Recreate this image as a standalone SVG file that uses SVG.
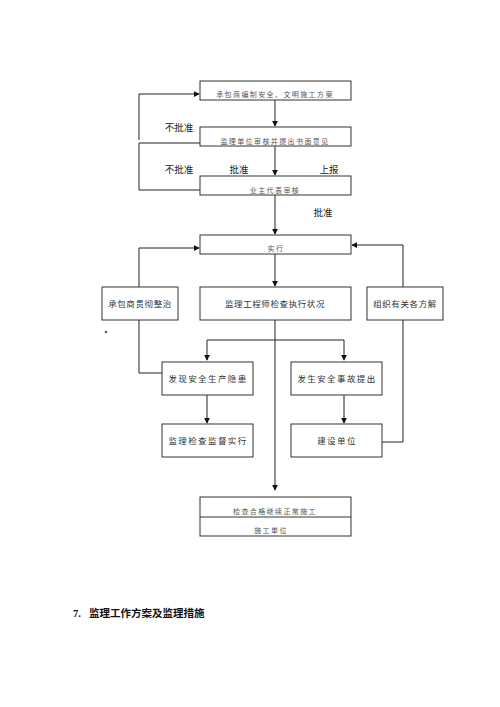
<svg xmlns="http://www.w3.org/2000/svg" width="500" height="707" viewBox="0 0 500 707">
<defs>
<style>
.box{fill:#fff;stroke:#333;stroke-width:1}
.ln{fill:none;stroke:#222;stroke-width:1}
.t{font-family:"Liberation Serif","Noto Sans CJK SC",serif;fill:#333;text-anchor:middle}
.s{font-size:7px;letter-spacing:1.4px;fill:#555}
.m{font-size:8.5px;letter-spacing:0.6px}
.w{font-size:8.5px;letter-spacing:1.4px}
.lb{font-family:"Liberation Serif","Noto Sans CJK SC",serif;font-size:9.5px;fill:#222;text-anchor:middle}
.ti{font-family:"Liberation Serif","Noto Sans CJK SC",serif;font-size:10.5px;font-weight:bold;fill:#111}
</style>
<marker id="ar" viewBox="0 0 8 8" refX="7" refY="4" markerWidth="6" markerHeight="6" orient="auto" markerUnits="userSpaceOnUse">
<path d="M0,0 L8,4 L0,8 z" fill="#111"/>
</marker>
</defs>
<rect width="500" height="707" fill="#fff"/>
<g id="connectors">
<path class="ln" d="M275,100 V126" marker-end="url(#ar)"/>
<path class="ln" d="M275,146 V175" marker-end="url(#ar)"/>
<path class="ln" d="M275,195 V234" marker-end="url(#ar)"/>
<path class="ln" d="M275,254 V286" marker-end="url(#ar)"/>
<path class="ln" d="M139,140 V94 H199" marker-end="url(#ar)"/>
<path class="ln" d="M200,143 H139 V190 H200"/>
<path class="ln" d="M139,287 V248 H199" marker-end="url(#ar)"/>
<path class="ln" d="M403,287 V245 H352" marker-end="url(#ar)"/>
<path class="ln" d="M139,320 V373 H162"/>
<path class="ln" d="M403,320 V442 H382"/>
<path class="ln" d="M275,320 V490" marker-end="url(#ar)"/>
<path class="ln" d="M207,340 H344 V360" marker-end="url(#ar)"/>
<path class="ln" d="M207,340 V360" marker-end="url(#ar)"/>
<path class="ln" d="M207,395 V423" marker-end="url(#ar)"/>
<path class="ln" d="M344,395 V423" marker-end="url(#ar)"/>
<text class="lb" x="179" y="131">不批准</text>
<text class="lb" x="179" y="173">不批准</text>
<text class="lb" x="239" y="173">批准</text>
<text class="lb" x="329" y="173">上报</text>
<text class="lb" x="323" y="216">批准</text>
</g>
<g id="n1"><rect class="box" x="200" y="81" width="151" height="19"/><text class="t s" x="275" y="97">承包商编制安全、文明施工方案</text></g>
<g id="n2"><rect class="box" x="200" y="127" width="151" height="19"/><text class="t s" x="275" y="144">监理单位审核并提出书面意见</text></g>
<g id="n3"><rect class="box" x="200" y="176" width="151" height="19"/><text class="t s" x="275" y="193">业主代表审核</text></g>
<g id="n4"><rect class="box" x="200" y="235" width="151" height="19"/><text class="t s" x="276" y="251">实行</text></g>
<g id="n5"><rect class="box" x="102" y="287" width="76" height="33"/><text class="t m" x="140" y="307">承包商贯彻整治</text></g>
<g id="n6"><rect class="box" x="200" y="287" width="151" height="33"/><text class="t m" x="275" y="307">监理工程师检查执行状况</text></g>
<g id="n7"><rect class="box" x="367" y="287" width="76" height="33"/><text class="t m" x="405" y="307">组织有关各方解</text></g>
<g id="n8"><rect class="box" x="162" y="362" width="91" height="33"/><text class="t w" x="208" y="382">发现安全生产隐患</text></g>
<g id="n9"><rect class="box" x="291" y="362" width="91" height="33"/><text class="t w" x="337" y="382">发生安全事故提出</text></g>
<g id="n10"><rect class="box" x="162" y="424" width="91" height="33"/><text class="t w" x="208" y="444">监理检查监督实行</text></g>
<g id="n11"><rect class="box" x="291" y="424" width="91" height="33"/><text class="t w" x="337" y="444">建设单位</text></g>
<g id="n12"><rect class="box" x="200" y="497" width="151" height="39"/><line x1="200" y1="517" x2="351" y2="517" stroke="#333" stroke-width="1"/><text class="t s" x="275" y="514">检查合格继续正常施工</text><text class="t s" x="271" y="533">施工单位</text></g>
<circle cx="106" cy="332" r="1" fill="#111"/>
<text class="ti" x="73" y="617">7.</text>
<text class="ti" x="89" y="617">监理工作方案及监理措施</text>
</svg>
